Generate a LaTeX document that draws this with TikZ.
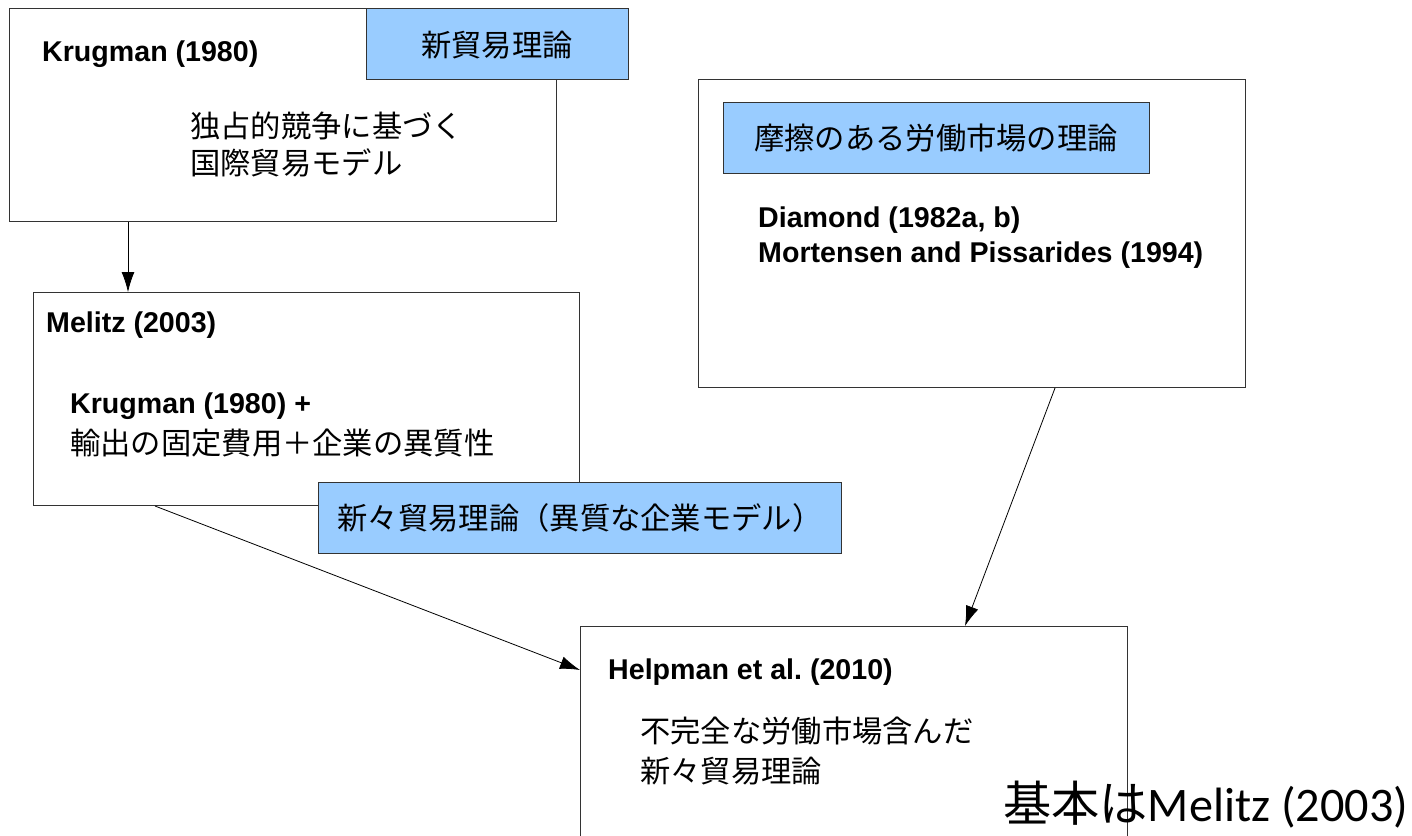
\documentclass[tikz,border=0pt]{standalone}
\usepackage{fontspec}
\setmainfont{Liberation Sans}
\newfontfamily\jp{Noto Sans CJK JP}
\newfontfamily\calib{Carlito}
\usetikzlibrary{arrows.meta}
\definecolor{boxline}{HTML}{333333}
\definecolor{bluefill}{HTML}{99CCFF}
\frenchspacing
\tikzset{
  box/.style={draw=boxline, line width=1pt, fill=white, inner sep=0pt, anchor=north west},
  bluebox/.style={draw=boxline, line width=1pt, fill=bluefill, inner sep=0pt, anchor=north west},
  latin/.style={font=\fontsize{28.6}{32}\selectfont\bfseries, inner sep=0pt, anchor=west},
  jptext/.style={font=\fontsize{30.3}{34}\selectfont\jp, inner sep=0pt, anchor=west},
  jpcenter/.style={font=\fontsize{30.3}{34}\selectfont\jp, inner sep=0pt},
  conn/.style={draw=black, line width=0.8pt, -{Latex[length=20pt,width=13pt]}}
}
\begin{document}
\begin{tikzpicture}[x=1pt,y=-1pt]
\useasboundingbox (0,0) rectangle (1412,835);
\clip (0,0) rectangle (1412,835);
% Krugman
\node[box, minimum width=547pt, minimum height=213pt] (krug) at (9,8) {};
\node[bluebox, minimum width=262pt, minimum height=71pt] (newtrade) at (366,8) {};
\node[jpcenter] (newtradet) at (497,45) {新貿易理論};
\node[latin] (krugt) at (42,54) {Krugman (1980)};
\node[jptext] (krugj1) at (190,126) {独占的競争に基づく};
\node[jptext] (krugj2) at (190,163) {国際貿易モデル};
% Melitz
\node[box, minimum width=546pt, minimum height=213pt] (mel) at (33,292) {};
\node[latin] (melt) at (46,325) {Melitz (2003)};
\node[latin] (melk) at (70,406) {Krugman (1980) +};
\node[jptext] (melj) at (70,443) {輸出の固定費用＋企業の異質性};
\node[bluebox, minimum width=523pt, minimum height=71pt] (newnew) at (318,482) {};
\node[jpcenter] (newnewt) at (580,518) {新々貿易理論（異質な企業モデル）};
% Friction
\node[box, minimum width=547pt, minimum height=308pt] (fric) at (698,79) {};
\node[bluebox, minimum width=426pt, minimum height=71pt] (fricb) at (723,102) {};
\node[jpcenter] (fricbt) at (936,138) {摩擦のある労働市場の理論};
\node[latin] (dia) at (758,220) {Diamond (1982a, b)};
\node[latin] (mort) at (758,255) {Mortensen and Pissarides (1994)};
% Helpman
\node[box, minimum width=547pt, minimum height=240pt] (help) at (580,626) {};
\node[latin] (helpt) at (608,672) {Helpman et al. (2010)};
\node[jptext] (helpj1) at (640,731) {不完全な労働市場含んだ};
\node[jptext] (helpj2) at (640,771) {新々貿易理論};
% connectors
\draw[conn] ([xshift=119pt]krug.south west) -- ([xshift=95pt]mel.north west);
\draw[conn] ([xshift=122pt]mel.south west) -- ([yshift=-44pt]help.north west);
\draw[conn] ([xshift=357pt]fric.south west) -- ([xshift=385pt]help.north west);
% bottom note
\node[inner sep=0pt, anchor=west] (note) at (1003,805) {\fontsize{48.2}{52}\selectfont{\jp 基本は}\calib Melitz (2003)};
\end{tikzpicture}
\end{document}
